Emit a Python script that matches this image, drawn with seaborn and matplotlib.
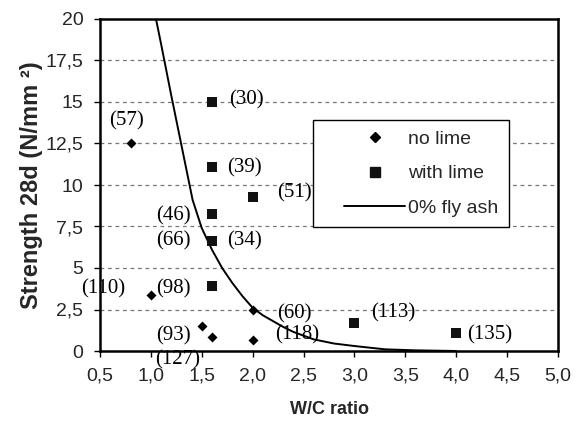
import numpy as np
import pandas as pd
import matplotlib
matplotlib.use("Agg")
import matplotlib.pyplot as plt
import seaborn as sns
from matplotlib.lines import Line2D
from matplotlib.legend_handler import HandlerLine2D

# ---- data ----
nolime_x = [0.8, 1.0, 1.5, 1.6, 2.0, 2.0]
nolime_y = [12.5, 3.4, 1.5, 0.85, 2.5, 0.65]
nolime_lab = ["(57)", "(98)", "(93)", "(127)", "(60)", "(118)"]

lime_x = [1.6, 1.6, 2.0, 1.6, 1.6, 1.6, 3.0, 4.0]
lime_y = [15.0, 11.1, 9.25, 8.25, 6.6, 3.9, 1.7, 1.1]
lime_lab = ["(30)", "(39)", "(51)", "(46)", "(34)", "", "(113)", "(135)"]

curve_x = [1.05, 1.1, 1.2, 1.3, 1.41, 1.5, 1.6, 1.7, 1.8, 1.9, 2.0, 2.1, 2.2,
           2.3, 2.4, 2.6, 2.8, 3.0, 3.3, 3.6, 4.0]
curve_y = [20.0, 18.5, 15.4, 12.4, 9.1, 7.4, 6.1, 5.0, 4.1, 3.3, 2.6, 2.15, 1.8,
           1.45, 1.15, 0.7, 0.45, 0.3, 0.1, 0.04, 0.0]

x_ticks = [0.5, 1.0, 1.5, 2.0, 2.5, 3.0, 3.5, 4.0, 4.5, 5.0]
x_ticklabels = ["0,5", "1,0", "1,5", "2,0", "2,5", "3,0", "3,5", "4,0", "4,5", "5,0"]
y_ticks = [0, 2.5, 5, 7.5, 10, 12.5, 15, 17.5, 20]
y_ticklabels = ["0", "2,5", "5", "7,5", "10", "12,5", "15", "17,5", "20"]

legend_labels = ["no lime", "with lime", "0% fly ash"]

# extra labels attached to points: (x, y, text, dx_px, dy_px, ha)
extra_labels = [(1.0, 3.4, "(110)", -26, 6, "right"),
                (1.6, 6.6, "(66)", -21, 1, "right")]

sns.set_theme(style="white")
plt.rcParams['font.family'] = ['Liberation Sans', 'DejaVu Sans']

fig = plt.figure(figsize=(5.77, 4.23), dpi=100)
ax = fig.add_axes([100/577, 1-351/423, 458/577, 332/423])

df_nl = pd.DataFrame({"x": nolime_x, "y": nolime_y})
df_wl = pd.DataFrame({"x": lime_x, "y": lime_y})
df_c = pd.DataFrame({"x": curve_x, "y": curve_y})

# grid lines
for yv in y_ticks[1:-1]:
    ax.axhline(yv, color="#777777", lw=0.9, ls=(0, (3, 3)), zorder=0)

sns.lineplot(data=df_c, x="x", y="y", ax=ax, color="black", lw=1.4, zorder=2,
             legend=False, sort=False)
sns.scatterplot(data=df_nl, x="x", y="y", ax=ax, marker="D", s=26, color="black",
                edgecolor="black", linewidth=0, zorder=3, legend=False)
sns.scatterplot(data=df_wl, x="x", y="y", ax=ax, marker="s", s=52, color="#111111",
                edgecolor="black", linewidth=0, zorder=3, legend=False)

ann_font = dict(family="Liberation Serif", fontsize=15, color="black")
nl_off = [(-4, 23, "center"), (5, 6, "left"), (-11, -10, "right"),
          (-34, -23, "center"), (24, -4, "left"), (22, 5, "left")]
wl_off = [(17, 2, "left"), (15, -1, "left"), (24, 5, "left"), (-21, -2, "right"),
          (15, 1, "left"), (0, 0, "left"), (17, 10, "left"), (11, -2, "left")]
for x, y, t, (dx, dy, ha) in zip(nolime_x, nolime_y, nolime_lab, nl_off):
    if t:
        ax.annotate(t, (x, y), xytext=(dx, dy), textcoords="offset pixels",
                    ha=ha, va="center", annotation_clip=False, **ann_font)
for x, y, t, (dx, dy, ha) in zip(lime_x, lime_y, lime_lab, wl_off):
    if t:
        ax.annotate(t, (x, y), xytext=(dx, dy), textcoords="offset pixels",
                    ha=ha, va="center", annotation_clip=False, **ann_font)
for x, y, t, dx, dy, ha in extra_labels:
    ax.annotate(t, (x, y), xytext=(dx, dy), textcoords="offset pixels",
                ha=ha, va="center", annotation_clip=False, **ann_font)

ax.set_xlim(0.5, 5.0)
ax.set_ylim(0, 20)
ax.set_xticks(x_ticks)
ax.set_xticklabels(x_ticklabels)
ax.set_yticks(y_ticks)
ax.set_yticklabels(y_ticklabels)
ax.tick_params(axis="both", which="major", direction="out", length=4, width=1,
               color="black", labelsize=14, pad=8, bottom=True, left=True)
for s in ax.spines.values():
    s.set_color("black")
    s.set_linewidth(1.8)
    s.set_visible(True)

ax.set_xlabel("W/C ratio", fontsize=13, fontweight="bold", labelpad=12)
ax.set_ylabel("Strength 28d (N/mm ²)", fontsize=17, fontweight="bold", labelpad=2)


class ShiftHandler(HandlerLine2D):
    def __init__(self, shift, **kw):
        super().__init__(**kw)
        self.shift = shift

    def create_artists(self, legend, orig_handle, xdescent, ydescent, width,
                       height, fontsize, trans):
        return super().create_artists(legend, orig_handle, xdescent - self.shift,
                                      ydescent, width - self.shift, height,
                                      fontsize, trans)


handles = [Line2D([], [], marker="D", color="black", ls="none", markersize=5),
           Line2D([], [], marker="s", color="#111111", ls="none", markersize=7),
           Line2D([], [], color="black", lw=1.4)]
shift_pt = 14.5
leg = ax.legend(handles, legend_labels,
                loc="upper left", bbox_to_anchor=(213/458, 231/332), fontsize=14,
                frameon=True, fancybox=False, framealpha=1, edgecolor="black",
                handlelength=4.2, borderpad=0.55, labelspacing=0.85,
                handletextpad=0.15, borderaxespad=0,
                handler_map={h: ShiftHandler(shift_pt) for h in handles})
leg.get_frame().set_linewidth(1.0)

fig.savefig("out.png", dpi=100)
